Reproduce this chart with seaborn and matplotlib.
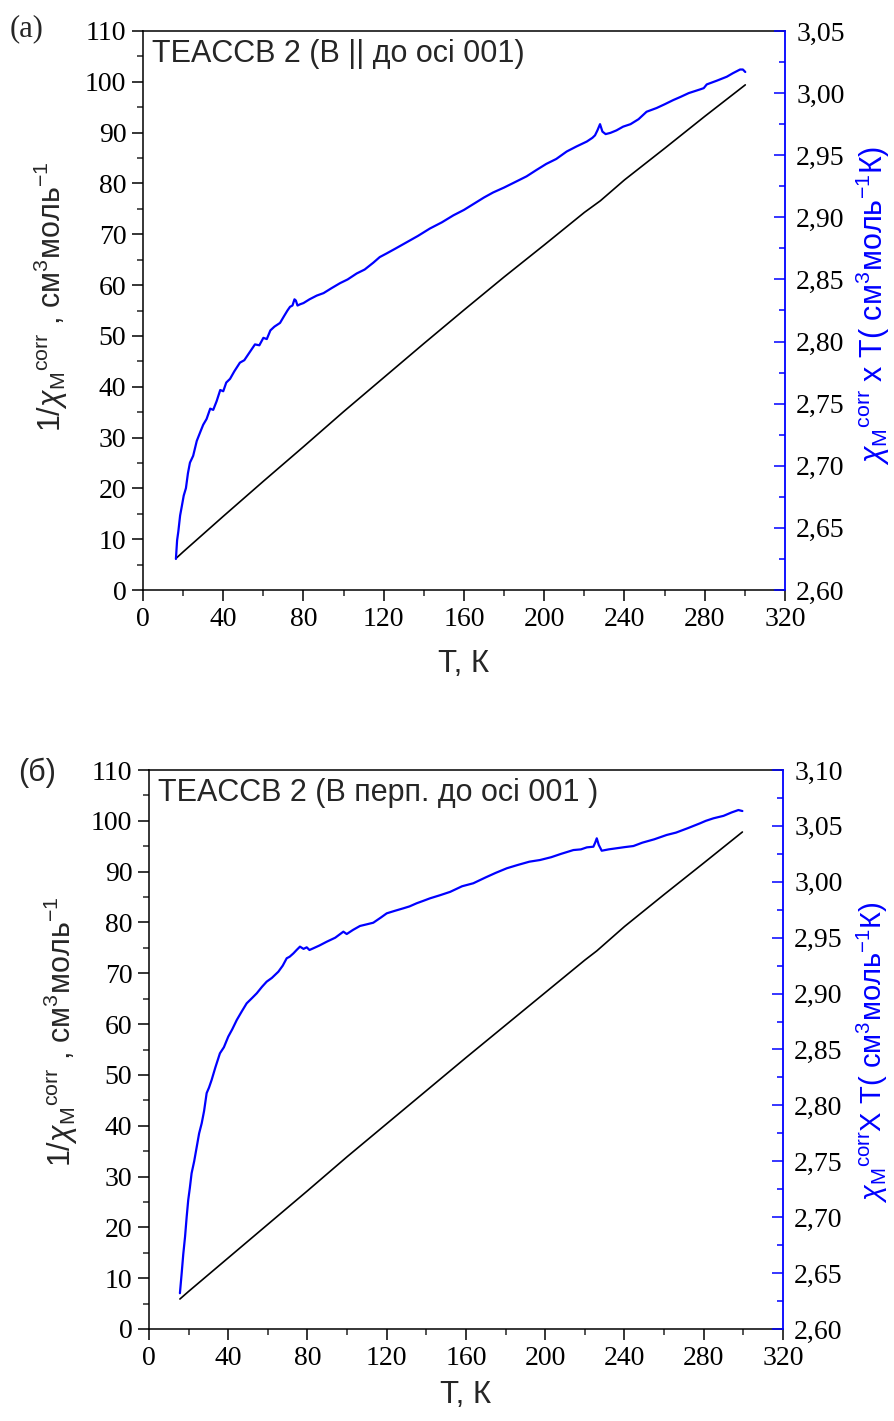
import numpy as np
import pandas as pd
import matplotlib
matplotlib.use("Agg")
import matplotlib.pyplot as plt
from matplotlib.ticker import MultipleLocator, FuncFormatter
import seaborn as sns

# ---------------- data ----------------
# Panel (a): B || 001
T_a_chiT = [16.4, 17.0, 17.6, 18.5, 19.3, 20.3, 21.4, 22.4, 23.4, 25.0, 26.8, 28.5, 30.0, 31.7,
            33.5, 35.0, 36.7, 38.5, 40.0, 41.5, 43.4, 45.5, 48.3, 50.5, 53.0, 55.8, 58.0, 60.0,
            61.7, 63.5, 65.5, 68.3, 70.5, 72.0, 73.3, 74.5, 75.5, 76.2, 77.0, 78.3, 80.0, 83.0,
            86.6, 90.0, 94.0, 98.2, 102.0, 106.5, 110.5, 114.8, 118.0, 121.5, 126.0, 131.5,
            137.0, 143.0, 149.0, 154.7, 160.0, 165.0, 170.0, 174.5, 180.0, 185.0, 191.2, 196.0,
            201.0, 206.0, 211.2, 216.0, 221.2, 224.0, 225.3, 226.5, 227.8, 229.0, 230.6, 233.0,
            236.0, 239.3, 243.0, 247.0, 251.0, 256.0, 260.0, 264.3, 268.0, 272.0, 277.7, 279.5,
            281.0, 286.0, 291.0, 294.0, 297.6, 299.0, 300.2]
chiT_a = [2.625, 2.640, 2.647, 2.660, 2.667, 2.676, 2.682, 2.694, 2.7025, 2.708, 2.720, 2.727,
          2.733, 2.7377, 2.746, 2.745, 2.752, 2.761, 2.760, 2.767, 2.770, 2.776, 2.783, 2.785,
          2.791, 2.7977, 2.797, 2.803, 2.802, 2.809, 2.812, 2.815, 2.821, 2.825, 2.828, 2.829,
          2.834, 2.833, 2.829, 2.830, 2.831, 2.834, 2.837, 2.839, 2.843, 2.847, 2.850, 2.8548,
          2.858, 2.8635, 2.868, 2.871, 2.875, 2.880, 2.885, 2.891, 2.896, 2.9016, 2.906, 2.911,
          2.916, 2.920, 2.924, 2.928, 2.933, 2.938, 2.943, 2.947, 2.953, 2.957, 2.961, 2.964,
          2.966, 2.970, 2.975, 2.969, 2.967, 2.968, 2.970, 2.973, 2.975, 2.979, 2.985, 2.988,
          2.991, 2.9944, 2.997, 3.000, 3.003, 3.004, 3.007, 3.010, 3.0132, 3.016, 3.019, 3.019,
          3.017]
T_a_inv = [16.4, 20, 30, 40, 60, 80, 100, 120, 140, 160, 180, 200, 220, 228, 240, 260, 280, 300.2]
inv_a = [6.2, 7.5, 11.0, 14.5, 21.4, 28.2, 35.1, 41.8, 48.5, 55.1, 61.6, 67.9, 74.3, 76.6,
         80.7, 86.9, 93.2, 99.4]

# Panel (б): B perpendicular to 001
T_b_chiT = [15.6, 16.0, 16.5, 17.3, 18.2, 19.0, 19.8, 20.6, 21.5, 22.8, 24.1, 25.3, 26.6, 27.8,
            29.1, 30.3, 31.6, 33.5, 35.8, 37.8, 40.0, 42.0, 44.3, 46.8, 49.3, 52.0, 54.4, 57.0,
            59.4, 62.0, 65.3, 67.5, 69.5, 71.0, 72.9, 74.5, 76.2, 78.0, 79.6, 81.0, 82.9, 86.0,
            89.7, 94.0, 98.1, 99.8, 103.0, 106.5, 110.0, 113.2, 117.0, 120.0, 124.0, 128.4,
            131.5, 135.1, 138.5, 141.8, 146.9, 152.0, 158.0, 163.7, 170.0, 175.0, 180.6, 186.0,
            192.0, 197.4, 203.0, 208.0, 214.2, 218.0, 221.0, 224.3, 225.2, 226.0, 227.0, 228.5,
            232.0, 236.0, 240.0, 244.5, 249.0, 255.0, 261.3, 266.0, 272.0, 278.1, 281.0, 284.9,
            290.0, 294.0, 297.5, 299.5]
chiT_b = [2.632, 2.640, 2.650, 2.667, 2.6826, 2.700, 2.7154, 2.726, 2.7393, 2.750, 2.763, 2.775,
          2.784, 2.795, 2.811, 2.816, 2.8227, 2.834, 2.8466, 2.852, 2.8615, 2.868, 2.8764, 2.884,
          2.8913, 2.896, 2.9003, 2.906, 2.9107, 2.914, 2.9196, 2.925, 2.9316, 2.933, 2.936,
          2.939, 2.942, 2.940, 2.9414, 2.939, 2.9405, 2.943, 2.9464, 2.950, 2.9554, 2.9533,
          2.957, 2.9605, 2.962, 2.9634, 2.968, 2.9718, 2.974, 2.9763, 2.978, 2.9808, 2.983,
          2.9852, 2.9880, 2.991, 2.996, 2.9987, 3.004, 3.008, 3.0121, 3.015, 3.018, 3.0195,
          3.022, 3.025, 3.0284, 3.029, 3.0308, 3.0314, 3.035, 3.0389, 3.033, 3.0278, 3.029,
          3.030, 3.031, 3.032, 3.035, 3.038, 3.0419, 3.044, 3.048, 3.0523, 3.0545, 3.0568,
          3.059, 3.062, 3.0642, 3.0633]
T_b_inv = [15.6, 20, 30, 40, 60, 80, 100, 120, 140, 160, 180, 200, 220, 226, 240, 260, 280, 299.5]
inv_b = [5.9, 7.4, 10.7, 14.0, 20.6, 27.2, 33.9, 40.4, 46.9, 53.4, 59.8, 66.2, 72.6, 74.4,
         79.2, 85.5, 91.7, 97.8]

panel_letters = ["(a)", "(б)"]
panel_titles = ["TEACCB 2 (B || до осі 001)", "TEACCB 2 (B перп. до осі 001 )"]
xlabel = "T, К"
ylabel_left = r"1/$\chi_{\mathrm{M}}$${}^{\mathrm{corr}}$ , см$^{3}$моль$^{-1}$"
ylabel_right = [r"$\chi_{\mathrm{M}}$${}^{\mathrm{corr}}$ x T( см$^{3}$моль$^{-1}$К)",
                r"$\chi_{\mathrm{M}}$${}^{\mathrm{corr}}$X T( см$^{3}$моль$^{-1}$К)"]
right_lims = [(2.60, 3.05), (2.60, 3.10)]

# ---------------- style ----------------
sns.set_style("ticks")
plt.rcParams["font.family"] = ["Liberation Serif", "DejaVu Serif"]
plt.rcParams["mathtext.fontset"] = "custom"
plt.rcParams["mathtext.rm"] = "Liberation Sans"
plt.rcParams["mathtext.it"] = "Liberation Sans:italic"
plt.rcParams["mathtext.bf"] = "Liberation Sans:bold"
plt.rcParams["axes.linewidth"] = 1.1

BLUE = "#0000ff"
SANS = ["Liberation Sans", "DejaVu Sans"]

fig = plt.figure(figsize=(8.95, 14.21), dpi=100)
axes_rects = [
    [143 / 895, 1 - 590 / 1421, 642 / 895, 559 / 1421],
    [149 / 895, 1 - 1329 / 1421, 634 / 895, 559 / 1421],
]
left_label_pos = [(-0.114, 0.524), (-0.109, 0.531)]
right_label_pos = [(1.107, 0.51), (1.113, 0.495)]
right_label_size = [22, 21]
xlabel_pos = [(0.5, -0.105), (0.5, -0.092)]
title_y = [0.985, 0.985]

datasets = [
    (T_a_inv, inv_a, T_a_chiT, chiT_a),
    (T_b_inv, inv_b, T_b_chiT, chiT_b),
]

fmt_comma = FuncFormatter(lambda v, p: f"{v:.2f}".replace(".", ","))

for i, rect in enumerate(axes_rects):
    T_inv, inv, T_c, chiT = datasets[i]
    ax = fig.add_axes(rect)
    df_inv = pd.DataFrame({"T": T_inv, "inv": inv})
    df_c = pd.DataFrame({"T": T_c, "chiT": chiT})

    sns.lineplot(data=df_inv, x="T", y="inv", ax=ax, color="black", lw=1.2,
                 estimator=None, sort=False)
    ax.set_xlim(0, 320)
    ax.set_ylim(0, 110)
    ax.xaxis.set_major_locator(MultipleLocator(40))
    ax.xaxis.set_minor_locator(MultipleLocator(20))
    ax.yaxis.set_major_locator(MultipleLocator(10))
    ax.yaxis.set_minor_locator(MultipleLocator(5))
    ax.tick_params(axis="both", which="major", direction="out", length=8, width=1.1,
                   labelsize=20, pad=4, colors="black")
    ax.tick_params(axis="both", which="minor", direction="out", length=4.5, width=1.1)
    ax.tick_params(axis="y", which="both", right=False)
    ax.tick_params(axis="x", which="both", top=False)

    ax2 = ax.twinx()
    sns.lineplot(data=df_c, x="T", y="chiT", ax=ax2, color=BLUE, lw=1.6,
                 estimator=None, sort=False)
    ax2.set_xlim(0, 320)
    ax2.set_ylim(*right_lims[i])
    ax2.yaxis.set_major_locator(MultipleLocator(0.05))
    ax2.yaxis.set_minor_locator(MultipleLocator(0.025))
    ax2.yaxis.set_major_formatter(fmt_comma)
    ax2.tick_params(axis="y", which="major", direction="in", length=8, width=1.1,
                    color=BLUE, labelcolor="black", labelsize=20, pad=8)
    ax2.tick_params(axis="y", which="minor", direction="in", length=4.5, width=1.1, color=BLUE)
    ax2.spines["right"].set_color(BLUE)
    ax2.spines["right"].set_linewidth(1.3)
    ax.spines["right"].set_visible(False)
    for s in ["top", "left", "bottom"]:
        ax2.spines[s].set_visible(False)
    for s in ["top", "left", "bottom"]:
        ax.spines[s].set_visible(True)
        ax.spines[s].set_color("black")

    ax.set_xlabel(xlabel, fontsize=22.5, family=SANS)
    ax.xaxis.set_label_coords(*xlabel_pos[i])
    ax.set_ylabel(ylabel_left, fontsize=22, family=SANS)
    ax.yaxis.set_label_coords(*left_label_pos[i])
    ax2.set_ylabel(ylabel_right[i], fontsize=right_label_size[i], family=SANS, color=BLUE)
    ax2.yaxis.set_label_coords(*right_label_pos[i])

    ax.text(0.014, title_y[i], panel_titles[i], transform=ax.transAxes, ha="left", va="top",
            fontsize=22, family=SANS)

fig.text(10 / 895, 1 - 36 / 1421, panel_letters[0], fontsize=22, ha="left", va="baseline",
         family=["Liberation Serif"])
fig.text(18 / 895, 1 - 781 / 1421, panel_letters[1], fontsize=22, ha="left", va="baseline",
         family=SANS)

fig.savefig("out.png", dpi=100)
